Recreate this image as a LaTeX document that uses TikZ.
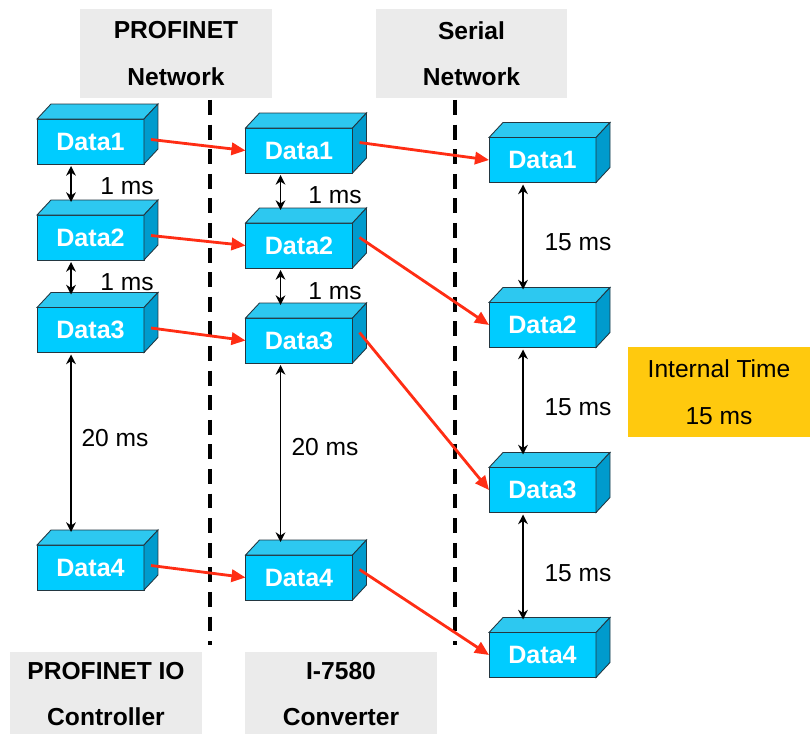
\documentclass[tikz,border=0pt]{standalone}
\usepackage{fontspec}
\setmainfont{Liberation Sans}
\usepackage{xcolor}
\usepackage{tikz}
\usetikzlibrary{arrows.meta, calc}
\definecolor{BoxFront}{RGB}{0, 204, 255}
\definecolor{BoxTop}{RGB}{45, 200, 240}
\definecolor{BoxSide}{RGB}{0, 155, 205}
\definecolor{EdgeDark}{RGB}{35, 55, 65}
\definecolor{FlowRed}{RGB}{255, 45, 20}
\definecolor{HeadGray}{RGB}{235, 235, 235}
\definecolor{TimeGold}{RGB}{255, 201, 14}

% front face as a node, top and side faces drawn onto it
\newcommand{\databox}[3]{%
  \node[dbox] (#1) at (#2) {#3};
  \filldraw[dtop] (#1.north west) -- ++(14,-15) -- ++(107,0) -- (#1.north east) -- cycle;
  \filldraw[dside] (#1.north east) -- ++(14,-15) -- ++(0,45) -- (#1.south east) -- cycle;
}

\begin{document}
\begin{tikzpicture}[
  x=0.02cm, y=-0.02cm,
  dbox/.style={rectangle, draw=EdgeDark, fill=BoxFront, line width=0.5pt,
               minimum width=2.14cm, minimum height=0.9cm, inner sep=0pt, outer sep=0pt,
               text=white, font=\bfseries\fontsize{14.3}{17}\selectfont},
  dtop/.style={draw=EdgeDark, fill=BoxTop, line width=0.5pt},
  dside/.style={draw=EdgeDark, fill=BoxSide, line width=0.5pt},
  head/.style={rectangle, fill=HeadGray, minimum width=3.84cm, minimum height=1.78cm,
               align=center, inner sep=0pt, font=\bfseries\fontsize{14}{26.5}\selectfont},
  lbl/.style={font=\fontsize{14}{17}\selectfont},
  flow/.style={-{Triangle[length=8pt, width=7pt]}, line width=1.6pt, color=FlowRed},
  gap/.style={{Stealth[length=5.5pt, width=5.5pt]}-{Stealth[length=5.5pt, width=5.5pt]}, line width=1pt},
  sep/.style={line width=2.2pt, dash pattern=on 8.5pt off 5.5pt}
]
  \useasboundingbox (0,0) rectangle (810,733);

  % headers
  \node[head] (hpn) at (176,53.5) {PROFINET\\Network};
  \node[head] (hser) at (471.5,53.5) {Serial\\Network};
  \node[head, minimum height=1.7cm] (hctl) at (106,694) {PROFINET IO\\Controller};
  \node[head, minimum height=1.7cm] (hcnv) at (341,694) {I-7580\\Converter};
  \node[head, fill=TimeGold, minimum width=3.64cm, minimum height=1.8cm,
        font=\fontsize{14}{26.5}\selectfont] (htime) at (719,392) {Internal Time\\15 ms};

  % network borders
  \coordinate (s1t) at (210,100);
  \coordinate (s1b) at (210,645);
  \coordinate (s2t) at (455,100);
  \coordinate (s2b) at (455,645);
  \draw[sep] (s1t) -- (s1b);
  \draw[sep] (s2t) -- (s2b);

  % controller
  \databox{a1}{90.5,141.5}{Data1}
  \databox{a2}{90.5,237.5}{Data2}
  \databox{a3}{90.5,330}{Data3}
  \databox{a4}{90.5,567.5}{Data4}
  % converter
  \databox{b1}{299,150.5}{Data1}
  \databox{b2}{299,245.5}{Data2}
  \databox{b3}{299,340.5}{Data3}
  \databox{b4}{299,577.5}{Data4}
  % serial device
  \databox{c1}{542.5,160}{Data1}
  \databox{c2}{542.5,325}{Data2}
  \databox{c3}{542.5,490}{Data3}
  \databox{c4}{542.5,655}{Data4}

  % cycle times
  \draw[gap] ($(a1.south west)+(34,2)$) -- ($(a2.north west)+(34,-13)$);
  \draw[gap] ($(a2.south west)+(34,2)$) -- ($(a3.north west)+(34,-13)$);
  \draw[gap] ($(a3.south west)+(34,2)$) -- ($(a4.north west)+(34,-13)$);
  \draw[gap] ($(b1.south west)+(35,2)$) -- ($(b2.north west)+(35,-13)$);
  \draw[gap] ($(b2.south west)+(35,2)$) -- ($(b3.north west)+(35,-13)$);
  \draw[gap] ($(b3.south west)+(35,2)$) -- ($(b4.north west)+(35,-13)$);
  \draw[gap] ($(c1.south west)+(34,2)$) -- ($(c2.north west)+(34,-13)$);
  \draw[gap] ($(c2.south west)+(34,2)$) -- ($(c3.north west)+(34,-13)$);
  \draw[gap] ($(c3.south west)+(34,2)$) -- ($(c4.north west)+(34,-13)$);
  \node[lbl] (ta1) at (127,186) {1 ms};
  \node[lbl] (ta2) at (127,282) {1 ms};
  \node[lbl] (ta3) at (115,438) {20 ms};
  \node[lbl] (tb1) at (335,195) {1 ms};
  \node[lbl] (tb2) at (335,291) {1 ms};
  \node[lbl] (tb3) at (325,447) {20 ms};
  \node[lbl] (tc1) at (578,242) {15 ms};
  \node[lbl] (tc2) at (578,407) {15 ms};
  \node[lbl] (tc3) at (578,573) {15 ms};

  % data flow
  \draw[flow] ($(a1.east)+(7,-2)$) -- (b1.west);
  \draw[flow] ($(a2.east)+(7,-2)$) -- (b2.west);
  \draw[flow] ($(a3.east)+(7,-2)$) -- (b3.west);
  \draw[flow] ($(a4.east)+(7,-2)$) -- (b4.west);
  \draw[flow] ($(b1.east)+(7,-8)$) -- (c1.west);
  \draw[flow] ($(b2.east)+(7,-8)$) -- (c2.west);
  \draw[flow] ($(b3.east)+(7,-8)$) -- (c3.west);
  \draw[flow] ($(b4.east)+(7,-8)$) -- (c4.west);
\end{tikzpicture}
\end{document}
